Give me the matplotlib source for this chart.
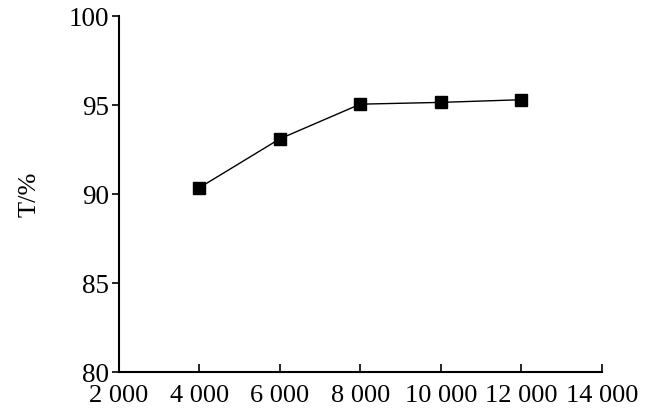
import matplotlib.pyplot as plt
from matplotlib.ticker import FuncFormatter

# data
x = [4000, 6000, 8000, 10000, 12000]
T = [90.35, 93.1, 95.05, 95.15, 95.3]

plt.rcParams['font.family'] = ['Liberation Serif', 'DejaVu Serif']

fig = plt.figure(figsize=(6.45, 4.12), dpi=100)
ax = fig.add_axes([0.184, 0.097, 0.749, 0.864])

ax.plot(x, T, color='black', linewidth=1.0, marker='s', markersize=8.5,
        markerfacecolor='black', markeredgecolor='black')

ax.set_xlim(2000, 14000)
ax.set_ylim(80, 100)
ax.set_xticks(range(2000, 14001, 2000))
ax.set_yticks([80, 85, 90, 95, 100])
ax.xaxis.set_major_formatter(FuncFormatter(lambda v, p: f'{int(v):,}'.replace(',', ' ')))

ax.spines['top'].set_visible(False)
ax.spines['right'].set_visible(False)
for s in ['left', 'bottom']:
    ax.spines[s].set_linewidth(1.5)

ax.tick_params(axis='x', direction='in', length=6, width=1.2, labelsize=19, pad=9)
ax.tick_params(axis='y', direction='out', length=5, width=1.2, labelsize=19.5, pad=2)

ax.set_ylabel('T/%', fontsize=19, labelpad=20)

fig.savefig('out.png', dpi=100)
